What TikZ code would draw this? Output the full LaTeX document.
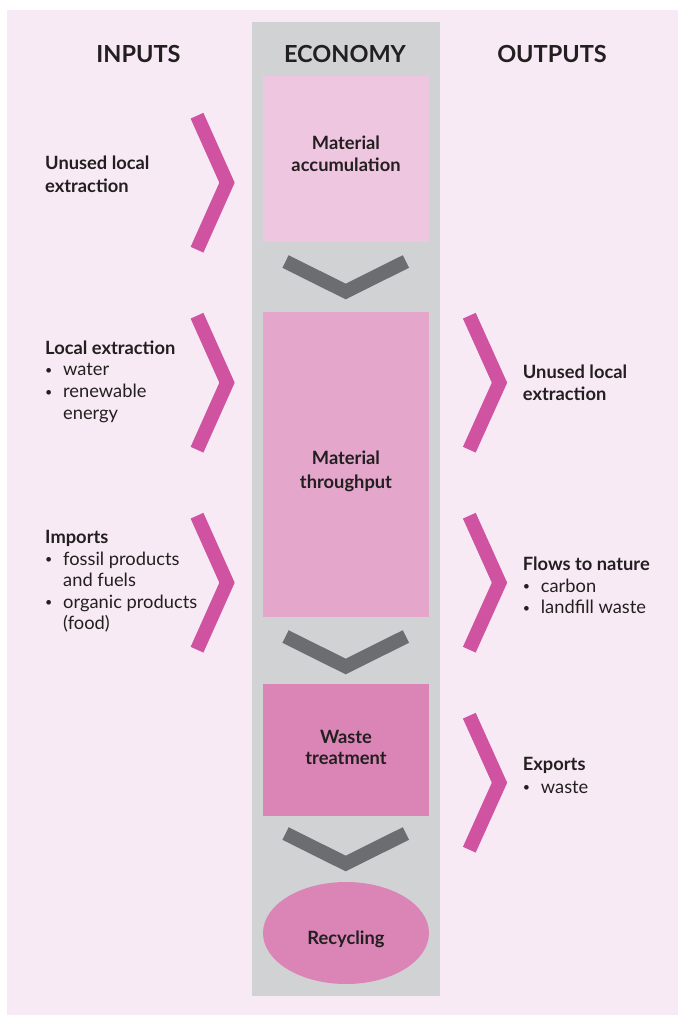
\documentclass[tikz,border=0pt]{standalone}
\usepackage{fontspec}
\setmainfont{Lato}
\usetikzlibrary{shapes.geometric}
\definecolor{bgpink}{HTML}{F8EAF4}
\definecolor{colgray}{HTML}{D1D2D4}
\definecolor{accumc}{HTML}{EFC6DF}
\definecolor{thruc}{HTML}{E4A6CA}
\definecolor{wastec}{HTML}{DB85B6}
\definecolor{chevpink}{HTML}{CF53A0}
\definecolor{chevgray}{HTML}{6C6D70}
\definecolor{txt}{HTML}{231F20}
\newcommand\mybul{\makebox[18pt][l]{\raisebox{1.5pt}{\fontsize{12.5pt}{13pt}\selectfont\textbullet}}}
\newcommand\myind{\hspace*{18pt}}
\begin{document}
\begin{tikzpicture}[x=1pt,y=-1pt,
  header/.style={inner sep=0pt, text height=17pt, text depth=0pt, text=txt,
    font=\fontsize{23.5pt}{26pt}\selectfont\bfseries},
  lab/.style={anchor=west, inner sep=0pt, text height=13pt, text depth=0pt, text=txt,
    font=\fontsize{18.3pt}{22pt}\selectfont},
  labb/.style={lab, font=\fontsize{18.3pt}{22pt}\selectfont\bfseries},
  ctr/.style={labb, anchor=center},
  box/.style={inner sep=0pt, minimum width=166pt, draw=none},
  pinkchev/.style={draw=chevpink, line width=14pt, line join=miter, line cap=butt},
  graychev/.style={draw=chevgray, line width=14pt, line join=miter, line cap=butt}]
\useasboundingbox (0,0) rectangle (678,1015);
\fill[bgpink] (7,10) rectangle (678,1015);
\fill[colgray] (252,22) rectangle (440,996);

% headers
\node[header] (hin) at (138.5,53.5) {INPUTS};
\node[header] (heco) at (345,53.5) {ECONOMY};
\node[header] (hout) at (552,53.5) {OUTPUTS};

% economy boxes
\node[box, fill=accumc, minimum height=166pt] (accum) at (346,159) {};
\node[box, fill=thruc, minimum height=305pt] (thru) at (346,464.5) {};
\node[box, fill=wastec, minimum height=132pt] (waste) at (346,750) {};
\node[box, ellipse, fill=wastec, minimum height=102pt] (recy) at (346,933) {};

\node[ctr] (ta1) at (346,143) {Material};
\node[ctr] (ta2) at (346,165) {accumulation};
\node[ctr] (tt1) at (346,458) {Material};
\node[ctr] (tt2) at (346,482) {throughput};
\node[ctr] (tw1) at (346,737) {Waste};
\node[ctr] (tw2) at (346,758) {treatment};
\node[ctr] (tr1) at (346,937.5) {Recycling};

% gray chevrons
\draw[graychev] (285.5,261.5) -- (345.7,291.5) -- (405.9,261.5);
\draw[graychev] (285.5,636.5) -- (345.7,666.5) -- (405.9,636.5);
\draw[graychev] (285.5,833.5) -- (345.7,863.5) -- (405.9,833.5);

% pink chevrons inputs
\draw[pinkchev] (197,115.7) -- (227,182.7) -- (197,249.7);
\draw[pinkchev] (197,315.7) -- (227,382.7) -- (197,449.7);
\draw[pinkchev] (197,515.7) -- (227,582.7) -- (197,649.7);
% pink chevrons outputs
\draw[pinkchev] (469.3,315.7) -- (499.5,382.7) -- (469.3,449.7);
\draw[pinkchev] (469.3,515.7) -- (499.5,582.7) -- (469.3,649.7);
\draw[pinkchev] (469.3,715.7) -- (499.5,782.7) -- (469.3,849.7);

% input labels
\node[labb] (i1a) at (45,163) {Unused local};
\node[labb] (i1b) at (45,186) {extraction};

\node[labb] (i2a) at (45,347.5) {Local extraction};
\node[lab] (i2b) at (45,369) {\mybul water};
\node[lab] (i2c) at (45,391) {\mybul renewable};
\node[lab] (i2d) at (45,413) {\myind energy};

\node[labb] (i3a) at (45,536.5) {Imports};
\node[lab] (i3b) at (45,558.5) {\mybul fossil products};
\node[lab] (i3c) at (45,580) {\myind and fuels};
\node[lab] (i3d) at (45,601.5) {\mybul organic products};
\node[lab] (i3e) at (45,623) {\myind (food)};

% output labels
\node[labb] (o1a) at (522.7,371.5) {Unused local};
\node[labb] (o1b) at (522.7,393.5) {extraction};

\node[labb] (o2a) at (522.7,563.5) {Flows to nature};
\node[lab] (o2b) at (522.7,585.5) {\mybul carbon};
\node[lab] (o2c) at (522.7,607) {\mybul landfill waste};

\node[labb] (o3a) at (522.7,763.5) {Exports};
\node[lab] (o3b) at (522.7,786.5) {\mybul waste};
\end{tikzpicture}
\end{document}
